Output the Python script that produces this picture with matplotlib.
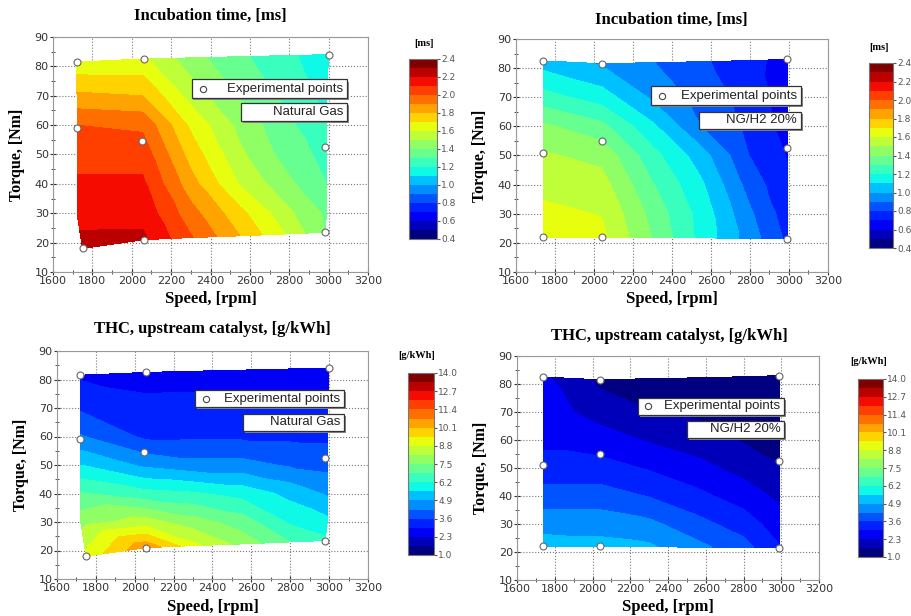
import numpy as np
import matplotlib
matplotlib.use("Agg")
import matplotlib.pyplot as plt
import matplotlib.tri as mtri
from matplotlib.colors import ListedColormap
from matplotlib.patches import Rectangle
from matplotlib.ticker import MultipleLocator

# experimental points (speed rpm, torque Nm)
pts_speed_ng = [1720, 2060, 3000, 1720, 2050, 2980, 1750, 2060, 2980]
pts_torque_ng = [81.5, 82.5, 84, 59, 54.5, 52.5, 18, 21, 23.5]
pts_speed_h2 = [1740, 2040, 2990, 1740, 2040, 2990, 1740, 2040, 2990]
pts_torque_h2 = [82.5, 81.5, 83, 51, 55, 52.5, 22, 22, 21.5]

# map values on a speed x torque grid
# rows: top edge, 70, 60, 50, 40, 30 Nm, bottom edge
mid_torque = [70, 60, 50, 40, 30]

cols_ng = [1722, 2055, 2300, 2550, 2800, 2990]
top_cols_ng = [1720, 2060, 2300, 2550, 2800, 3000]
bot_cols_ng = [1750, 2060, 2300, 2550, 2800, 2980]
top_ng = [81.5, 82.5, 82.9, 83.3, 83.7, 84.0]
bot_ng = [18.0, 21.0, 21.7, 22.3, 23.0, 23.5]

cols_h2 = [1740, 2040, 2300, 2550, 2800, 2990]
top_h2 = [82.5, 81.5, 81.9, 82.2, 82.6, 83.0]
bot_h2 = [22.0, 22.0, 21.9, 21.7, 21.6, 21.5]

inc_ng = [
    [1.63, 1.62, 1.44, 1.32, 1.22, 1.13],
    [1.82, 1.80, 1.56, 1.39, 1.27, 1.17],
    [2.00, 1.98, 1.68, 1.47, 1.32, 1.20],
    [2.06, 2.06, 1.76, 1.52, 1.35, 1.27],
    [2.12, 2.12, 1.84, 1.59, 1.42, 1.30],
    [2.17, 2.17, 1.94, 1.73, 1.52, 1.38],
    [2.23, 2.22, 2.01, 1.80, 1.58, 1.40],
]
inc_h2 = [
    [1.05, 0.99, 0.905, 0.817, 0.732, 0.66],
    [1.24, 1.15, 0.983, 0.862, 0.757, 0.65],
    [1.42, 1.33, 1.12, 0.899, 0.777, 0.66],
    [1.513, 1.47, 1.236, 1.047, 0.797, 0.695],
    [1.57, 1.54, 1.306, 1.117, 0.857, 0.72],
    [1.625, 1.595, 1.368, 1.163, 0.916, 0.75],
    [1.665, 1.625, 1.395, 1.17, 0.95, 0.78],
]
thc_ng = [
    [2.85, 2.70, 2.70, 2.70, 2.65, 2.60],
    [3.50, 3.12, 3.14, 3.14, 3.14, 3.14],
    [4.30, 3.47, 3.48, 3.48, 3.47, 3.47],
    [5.55, 4.75, 4.48, 4.48, 4.16, 4.04],
    [6.90, 6.42, 6.28, 5.97, 5.35, 4.81],
    [7.90, 8.44, 7.80, 7.20, 6.09, 5.74],
    [9.00, 10.6, 9.00, 7.90, 6.85, 6.35],
]
thc_h2 = [
    [2.40, 1.50, 1.35, 1.25, 1.20, 1.15],
    [2.60, 2.04, 1.69, 1.54, 1.42, 1.40],
    [2.80, 2.59, 2.24, 1.96, 1.60, 1.55],
    [3.20, 3.21, 2.89, 2.52, 2.07, 1.68],
    [3.90, 3.88, 3.57, 3.13, 2.65, 2.15],
    [4.64, 4.64, 4.41, 3.83, 3.29, 2.61],
    [5.20, 5.10, 5.00, 4.45, 3.85, 3.00],
]

inc_ticks = [0.4, 0.6, 0.8, 1.0, 1.2, 1.4, 1.6, 1.8, 2.0, 2.2, 2.4]
thc_ticks = [1.0, 2.3, 3.6, 4.9, 6.2, 7.5, 8.8, 10.1, 11.4, 12.7, 14.0]

# 20 discrete jet colours, dark navy to maroon
cmap20 = ListedColormap(plt.cm.jet(np.linspace(0, 1, 20)))

fig = plt.figure(figsize=(9.12, 6.16), dpi=100)
serif = "Liberation Serif"


def px_axes(l, t, r, b):
    return fig.add_axes([l / 912, 1 - b / 616, (r - l) / 912, (b - t) / 616])


def grid_tri(cols, top_cols, bot_cols, top, bot, vals):
    xs, ys, zs = [], [], []
    last = len(vals) - 1
    for i, row in enumerate(vals):
        for j, v in enumerate(row):
            if i == 0:
                xs.append(top_cols[j])
                ys.append(top[j])
            elif i == last:
                xs.append(bot_cols[j])
                ys.append(bot[j])
            else:
                xs.append(cols[j])
                ys.append(mid_torque[i - 1])
            zs.append(v)
    nc = len(cols)
    tris = []
    for i in range(last):
        for j in range(nc - 1):
            a, b = i * nc + j, i * nc + j + 1
            c, d = a + nc, b + nc
            tris += [[a, c, d], [a, d, b]]
    return mtri.Triangulation(xs, ys, tris), zs


def box(ax, x0, y0, x1, y1, text, marker=False):
    # shadowed legend-like box in axes fraction coords
    ax.add_patch(Rectangle((x0 + 0.006, y0 - 0.01), x1 - x0, y1 - y0, transform=ax.transAxes,
                           facecolor="#888888", edgecolor="none", zorder=5))
    ax.add_patch(Rectangle((x0, y0), x1 - x0, y1 - y0, transform=ax.transAxes,
                           facecolor="white", edgecolor="#333333", lw=0.9, zorder=6))
    ax.text(x1 - 0.012, (y0 + y1) / 2, text, transform=ax.transAxes, ha="right", va="center",
            fontsize=9.5, family="Liberation Sans", color="#222222", zorder=7)
    if marker:
        ax.plot([x0 + 0.035], [(y0 + y1) / 2], "o", transform=ax.transAxes, ms=4.5,
                mfc="white", mec="#444444", mew=0.8, zorder=7)


grid_ng = (cols_ng, top_cols_ng, bot_cols_ng, top_ng, bot_ng)
grid_h2 = (cols_h2, cols_h2, cols_h2, top_h2, bot_h2)

panels = [
    dict(ax=(53, 37, 368, 272), cb=(409, 59, 437, 239), grid=grid_ng, vals=inc_ng,
         px=pts_speed_ng, py=pts_torque_ng,
         ticks=inc_ticks, title="Incubation time, [ms]", tpos=(210, 16), unit="[ms]", upos=(424, 44),
         lbl="Natural Gas", lg=(0.44, 0.74, 0.933, 0.82), lg2=(0.597, 0.643, 0.933, 0.72), xl=299),
    dict(ax=(516, 39, 828, 272), cb=(869, 63, 893, 248), grid=grid_h2, vals=inc_h2,
         px=pts_speed_h2, py=pts_torque_h2,
         ticks=inc_ticks, title="Incubation time, [ms]", tpos=(671, 20), unit="[ms]", upos=(879, 48),
         lbl="NG/H2 20%", lg=(0.433, 0.717, 0.913, 0.798), lg2=(0.587, 0.614, 0.913, 0.687), xl=299),
    dict(ax=(57, 351, 368, 579), cb=(408, 373, 434, 555), grid=grid_ng, vals=thc_ng,
         px=pts_speed_ng, py=pts_torque_ng,
         ticks=thc_ticks, title="THC, upstream catalyst, [g/kWh]", tpos=(212, 329), unit="[g/kWh]",
         upos=(417, 356), lbl="Natural Gas", lg=(0.444, 0.754, 0.923, 0.829),
         lg2=(0.598, 0.649, 0.923, 0.724), xl=607),
    dict(ax=(517, 356, 819, 580), cb=(858, 379, 883, 557), grid=grid_h2, vals=thc_h2,
         px=pts_speed_h2, py=pts_torque_h2,
         ticks=thc_ticks, title="THC, upstream catalyst, [g/kWh]", tpos=(669, 336), unit="[g/kWh]",
         upos=(869, 362), lbl="NG/H2 20%", lg=(0.40, 0.737, 0.884, 0.8125),
         lg2=(0.563, 0.634, 0.884, 0.71), xl=607),
]

for p in panels:
    ax = px_axes(*p["ax"])
    lo, hi = p["ticks"][0], p["ticks"][-1]
    levels = np.linspace(lo, hi, 21)
    tri, z = grid_tri(*p["grid"], p["vals"])
    cs = ax.tricontourf(tri, z, levels=levels, cmap=cmap20, zorder=1)
    ax.plot(p["px"], p["py"], "o", ms=5, mfc="white", mec="#666666", mew=0.8, zorder=4)

    ax.set_xlim(1600, 3200)
    ax.set_ylim(10, 90)
    ax.xaxis.set_major_locator(MultipleLocator(200))
    ax.xaxis.set_minor_locator(MultipleLocator(100))
    ax.yaxis.set_major_locator(MultipleLocator(10))
    ax.yaxis.set_minor_locator(MultipleLocator(5))
    ax.set_axisbelow(True)
    ax.grid(True, which="major", color="#777777", ls=":", lw=0.8)
    ax.tick_params(which="both", direction="inout", labelsize=8, colors="#333333", pad=1)
    ax.tick_params(which="major", length=4)
    ax.tick_params(which="minor", length=2.5)
    for s in ax.spines.values():
        s.set_color("#999999")

    l, t, r, b = p["ax"]
    fig.text(p["tpos"][0] / 912, 1 - p["tpos"][1] / 616, p["title"], ha="center", va="center",
             family=serif, fontweight="bold", fontsize=12)
    fig.text((l + r) / 2 / 912, 1 - p["xl"] / 616, "Speed, [rpm]", ha="center", va="center",
             family=serif, fontweight="bold", fontsize=12)
    fig.text((l - 36) / 912, 1 - (t + b) / 2 / 616, "Torque, [Nm]", ha="center", va="center",
             rotation=90, family=serif, fontweight="bold", fontsize=11.5)

    box(ax, *p["lg"], "Experimental points", marker=True)
    box(ax, *p["lg2"], p["lbl"])

    cax = px_axes(*p["cb"])
    cb = fig.colorbar(cs, cax=cax, ticks=p["ticks"])
    cb.ax.set_yticklabels(["%.1f" % t_ for t_ in p["ticks"]])
    cb.ax.tick_params(labelsize=6.5, length=2, colors="#555555", pad=1)
    cb.outline.set_edgecolor("#777777")
    fig.text(p["upos"][0] / 912, 1 - p["upos"][1] / 616, p["unit"], ha="center", va="center",
             family=serif, fontweight="bold", fontsize=7.5)

fig.savefig("out.png", dpi=100)
